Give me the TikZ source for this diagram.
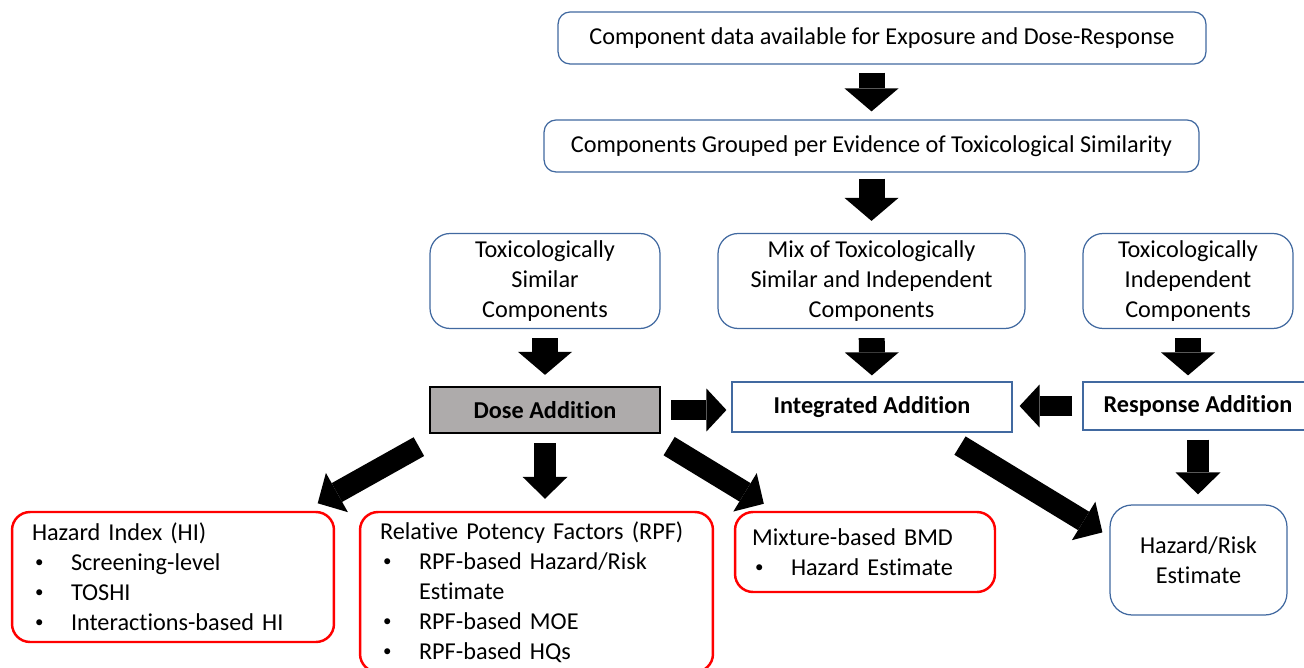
\documentclass[tikz,border=0pt]{standalone}
\usepackage{fontspec}
\setmainfont{Carlito}[Ligatures=NoCommon]
\usetikzlibrary{arrows.meta}
\definecolor{boxblue}{RGB}{65,105,160}
\definecolor{dosegray}{RGB}{174,171,171}
\newcommand{\blt}{\hspace*{0.06cm}\makebox[0.72cm][l]{\raisebox{0.12em}{\scalebox{0.7}{\textbullet}}}}
\newcommand{\ind}{\hspace*{0.78cm}}
\begin{document}
\begin{tikzpicture}[x=0.02cm, y=-0.02cm,
    every node/.style={font=\fontsize{13.8pt}{17pt}\selectfont, inner sep=0pt},
    bluebox/.style={draw=boxblue, line width=0.7pt, fill=white, align=center},
    redbox/.style={draw=red, line width=1.4pt, rounded corners=0.36cm, align=left, inner xsep=0.4cm},
    bigarrow/.style={line width=0.52cm, -{Triangle[width=1.08cm, length=0.46cm, line width=0pt]}},
    midarrow/.style={line width=0.43cm, -{Triangle[width=0.9cm, length=0.44cm, line width=0pt]}},
    sidearrow/.style={line width=0.4cm, -{Triangle[width=0.86cm, length=0.4cm, line width=0pt]}}]
    \useasboundingbox (0,0) rectangle (1304,668);

    % Top of the flow
    \node[bluebox, rounded corners=0.24cm, minimum width=12.96cm, minimum height=1.04cm] (data) at (882,38)
        {Component data available for Exposure and Dose-Response};
    \node[bluebox, rounded corners=0.24cm, minimum width=13.1cm, minimum height=1.04cm] (group) at (871.5,146)
        {Components Grouped per Evidence of Toxicological Similarity};

    % Three kinds of components
    \node[bluebox, rounded corners=0.4cm, minimum width=4.6cm, minimum height=1.9cm] (sim) at (545,281)
        {Toxicologically\\Similar\\Components};
    \node[bluebox, rounded corners=0.4cm, minimum width=6.14cm, minimum height=1.9cm] (mix) at (871.5,281)
        {Mix of Toxicologically\\Similar and Independent\\Components};
    \node[bluebox, rounded corners=0.4cm, minimum width=4.2cm, minimum height=1.9cm] (indep) at (1188,281)
        {Toxicologically\\Independent\\Components};

    % Addition methods
    \node[draw, line width=1.3pt, fill=dosegray, minimum width=4.6cm, minimum height=0.92cm,
        font=\fontsize{13.8pt}{17pt}\selectfont\bfseries] (dose) at (545,410) {Dose Addition};
    \node[bluebox, minimum width=5.6cm, minimum height=1.0cm,
        font=\fontsize{13.8pt}{17pt}\selectfont\bfseries] (integ) at (872,407) {Integrated Addition};
    \node[bluebox, minimum width=4.6cm, minimum height=0.96cm,
        font=\fontsize{13.8pt}{17pt}\selectfont\bfseries] (resp) at (1198,406) {Response Addition};

    % Outcomes
    \node[redbox, minimum width=6.44cm, minimum height=2.6cm, text width=5.64cm] (hi) at (173,577)
        {Hazard Index (HI)\\\blt Screening-level\\\blt TOSHI\\\blt Interactions-based HI};
    \node[redbox, minimum width=7.06cm, minimum height=3.2cm, text width=6.26cm] (rpf) at (536.5,592)
        {Relative Potency Factors (RPF)\\\blt RPF-based Hazard/Risk\\\ind Estimate\\\blt RPF-based MOE\\\blt RPF-based HQs};
    \node[redbox, inner xsep=0.34cm, minimum width=5.2cm, minimum height=1.6cm, text width=4.52cm] (bmd) at (865,552)
        {Mixture-based BMD\\\blt Hazard Estimate};
    \node[bluebox, rounded corners=0.44cm, minimum width=3.54cm, minimum height=2.2cm] (hr) at (1198.5,560)
        {Hazard/Risk\\Estimate};

    % Block arrows
    \draw[bigarrow, shorten <=0.16cm, shorten >=0.16cm] (group.north |- data.south) -- (group.north);
    \draw[bigarrow, shorten <=0.12cm, shorten >=0.24cm] (group) -- (mix);
    \draw[bigarrow, shorten <=0.18cm, shorten >=0.22cm] (sim) -- (dose.north);
    \draw[bigarrow, shorten <=0.18cm, shorten >=0.12cm] (mix) -- (integ);
    \draw[bigarrow, shorten <=0.18cm, shorten >=0.12cm] (indep.south) -- (indep.south |- resp.north);
    \draw[sidearrow, shorten <=0.2cm, shorten >=0.1cm] (dose.east) -- (dose.east -| integ.west);
    \draw[sidearrow, shorten <=0.2cm, shorten >=0.14cm] (resp.west) -- (resp.west -| integ.east);
    \draw[midarrow, shorten <=0.18cm, shorten >=0.2cm] (resp.south) -- (resp.south |- hr.north);
    \draw[midarrow, shorten <=0.18cm, shorten >=0.24cm] (dose.south) -- (dose.south |- rpf.north);
    \draw[midarrow] ([xshift=-0.2cm, yshift=-0.25cm]dose.south west) -- ([xshift=-0.35cm, yshift=0.15cm]hi.north east);
    \draw[midarrow] ([xshift=0.16cm, yshift=-0.24cm]dose.south east) -- ([xshift=0.6cm, yshift=0.14cm]bmd.north west);
    \draw[midarrow] ([xshift=1.76cm, yshift=-0.26cm]integ.south) -- ([xshift=-0.14cm, yshift=-0.56cm]hr.north west);
\end{tikzpicture}
\end{document}
